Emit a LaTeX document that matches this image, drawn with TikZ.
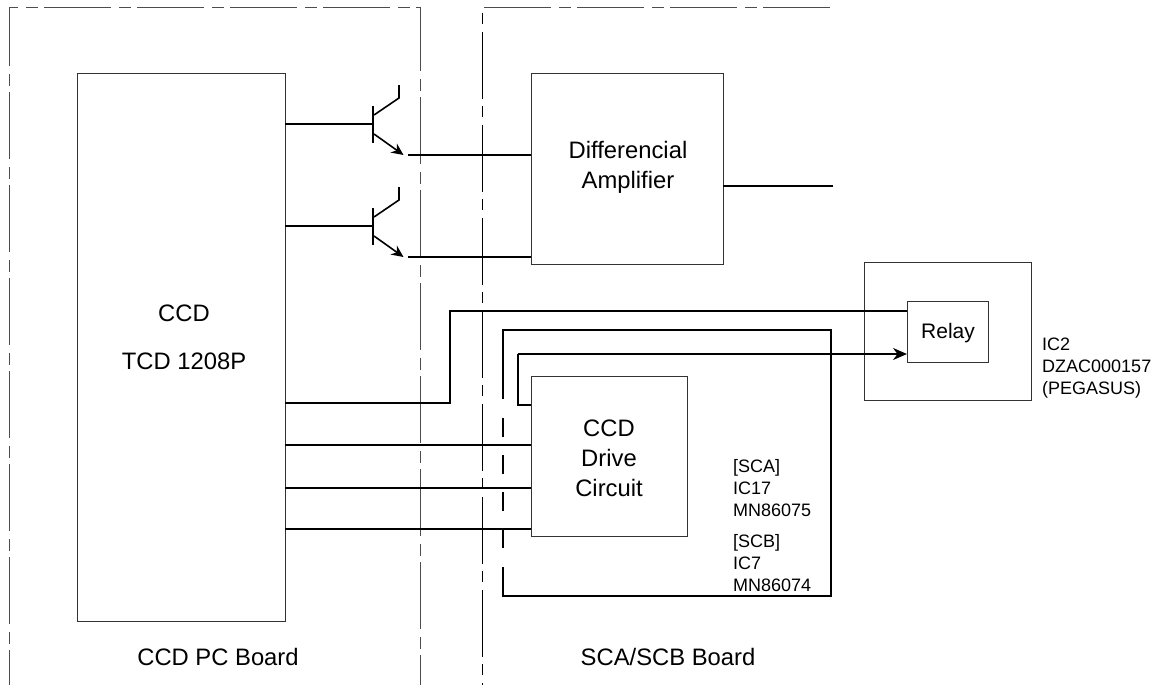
\documentclass[tikz,border=0pt]{standalone}
\usepackage{fontspec}
\setmainfont{Liberation Sans}
\usetikzlibrary{arrows.meta, positioning}

\begin{document}
\begin{tikzpicture}[x=1pt, y=-1pt,
            block/.style={draw=black!80, line width=1pt, inner sep=0pt, outer sep=0pt},
            label/.style={inner sep=0pt, align=center, font=\fontsize{23.8}{30}\selectfont},
            note/.style={inner sep=0pt, anchor=west, align=left, font=\fontsize{18}{22}\selectfont},
            wire/.style={line width=1.6pt},
            bus/.style={line width=2pt, line cap=butt},
            board/.style={line width=1pt, dash pattern=on 67pt off 8pt on 12pt off 6pt}]
            \useasboundingbox (0,0) rectangle (1158,685);
            \draw[board, black!70] (9,66) -- (9,8) -- (420,8) -- (420,685);
            \draw[board, black!70, dash phase=67pt] (9,66) -- (9,685);
            \draw[board, dash pattern=on 11pt off 8pt on 67pt off 7pt] (482,13) -- (482,685);
            \draw[board, black!70] (484,8) -- (832,8);
            \draw[bus] (503,399) -- (503,330) -- (831,330) -- (831,596) -- (503,596) -- (503,567);
            \draw[bus, dash pattern=on 19pt off 18pt] (503,418) -- (503,549);
            \node[block, minimum width=208, minimum height=548] (ccd) at (181,347) {};
            \node[label] (ccdname) at (184,313) {CCD};
            \node[label] (ccdtype) at (184,361) {TCD 1208P};
            \node[block, minimum width=192, minimum height=191] (amp) at (627,168.5) {};
            \node[label] (amptext) at (628,167) {Differencial\\Amplifier};
            \node[block, minimum width=156, minimum height=160] (drive) at (609,456) {};
            \node[label] (drivetext) at (609,458) {CCD\\Drive\\Circuit};
            \node[block, minimum width=167, minimum height=138] (ictwo) at (947.5,331) {};
            \node[block, minimum width=81, minimum height=61] (relay) at (947.5,331.5) {};
            \node[label, font=\fontsize{21}{25}\selectfont] (relaytext) at (948,333) {Relay};
            \node[note] (ictwotext) at (1042,368.5) {IC2\\DZAC000157\\(PEGASUS)};
            \node[note] (scatext) at (733,488) {[SCA]\\IC17\\MN86075};
            \node[note] (scbtext) at (733,563) {[SCB]\\IC7\\MN86074};
            \node[label] (ccdboard) at (218,657) {CCD PC Board};
            \node[label] (scaboard) at (668,657) {SCA/SCB Board};
            \foreach \n/\y in {a/124, b/226} {
                \coordinate (base\n) at (373,\y);
                \coordinate (emit\n) at (403.5,\y+31);
                \draw[wire] (ccd.east |- base\n) -- (base\n);
                \draw[wire] (373,\y-18) -- (373,\y+19);
                \draw[wire] (374,\y-9) -- (399,\y-26) -- (399,\y-39);
                \draw[wire, -{Stealth[length=12pt, width=11pt]}] (374,\y+10) -- (emit\n);
            }
            \coordinate (outa) at (408,155);
            \coordinate (outb) at (408,257);
            \draw[wire] (outa) -- (amp.west |- outa);
            \draw[bus] (outb) -- (amp.west |- outb);
            \coordinate (ampout) at (833,186);
            \draw[bus] (amp.east |- ampout) -- (ampout);
            \coordinate (ccdrelay) at (285,403);
            \coordinate (relaytop) at (450,311);
            \draw[bus] (ccdrelay) -- (450,403) -- (relaytop) -- (relay.west |- relaytop);
            \coordinate (relayin) at (518,405);
            \coordinate (relaybot) at (518,354);
            \draw[bus] (drive.west |- relayin) -- (relayin) -- (relaybot);
            \draw[bus, -{Stealth[length=14pt, width=12pt]}] (relaybot) -- (relay.west |- relaybot);
            \foreach \n/\y in {a/445, b/488, c/529} {
                \coordinate (drv\n) at (285,\y);
                \draw[wire] (drv\n) -- (drive.west |- drv\n);
            }
        \end{tikzpicture}
\end{document}
